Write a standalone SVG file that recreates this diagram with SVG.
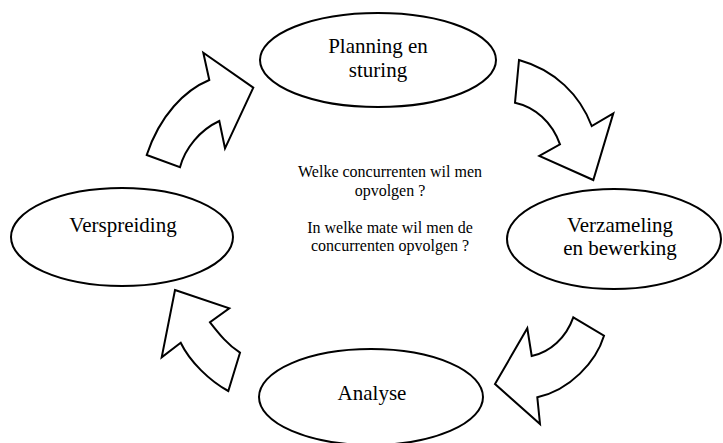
<svg xmlns="http://www.w3.org/2000/svg" width="723" height="443" viewBox="0 0 723 443">
  <style>
    .node { fill: #fff; stroke: #000; stroke-width: 2; }
    .arrow { fill: #fff; stroke: #000; stroke-width: 2; stroke-linejoin: miter; }
    .label { font-family: "Liberation Serif", "Times New Roman", serif; font-size: 21px; fill: #000; text-anchor: middle; }
    .note { font-family: "Liberation Serif", "Times New Roman", serif; font-size: 16px; fill: #000; text-anchor: middle; }
  </style>
  <rect width="723" height="443" fill="#fff"/>

  <!-- curved block arrows forming the cycle -->
  <g id="connectors">
    <path class="arrow" d="M146.7,155 L180,167.3 C185,148 200,130 219.3,121 L225,148.3 L253.3,87.7 L203.3,52.7 L209.3,80 C185,90 160,115 146.7,155 Z"/>
    <path class="arrow" d="M519,60 L515,102.7 C535,107 552,122 560,144.3 L539.3,156 L593.3,180 L613.3,113.3 L591.7,126 C580,95 555,70 519,60 Z"/>
    <path class="arrow" d="M573.3,317.3 L604,335.7 C596,362 570,390 537.3,397.3 L540,424 L495,384 L527.3,328.3 L531.7,356 C550,352 566,338 573.3,317.3 Z"/>
    <path class="arrow" d="M175,290 L229.3,308.3 L210,322.3 C220,335 228,345 240,352.7 L228.3,391 C210,381 190,362 180.7,342.7 L161.7,357.3 Z"/>
  </g>

  <g id="planning">
    <ellipse class="node" cx="378" cy="60" rx="118" ry="47"/>
    <text class="label" x="378" y="53">Planning en</text>
    <text class="label" x="378" y="77">sturing</text>
  </g>

  <g id="verzameling">
    <ellipse class="node" cx="614" cy="239" rx="107" ry="50"/>
    <text class="label" x="620" y="232">Verzameling</text>
    <text class="label" x="620" y="255">en bewerking</text>
  </g>

  <g id="analyse">
    <ellipse class="node" cx="371" cy="397" rx="112" ry="48"/>
    <text class="label" x="372" y="400">Analyse</text>
  </g>

  <g id="verspreiding">
    <ellipse class="node" cx="122" cy="237" rx="111" ry="49"/>
    <text class="label" x="123" y="232">Verspreiding</text>
  </g>

  <g id="vragen">
    <text class="note" x="390" y="177">Welke concurrenten wil men</text>
    <text class="note" x="390" y="195.5">opvolgen ?</text>
    <text class="note" x="390" y="232.5">In welke mate wil men de</text>
    <text class="note" x="390" y="251">concurrenten opvolgen ?</text>
  </g>
</svg>
